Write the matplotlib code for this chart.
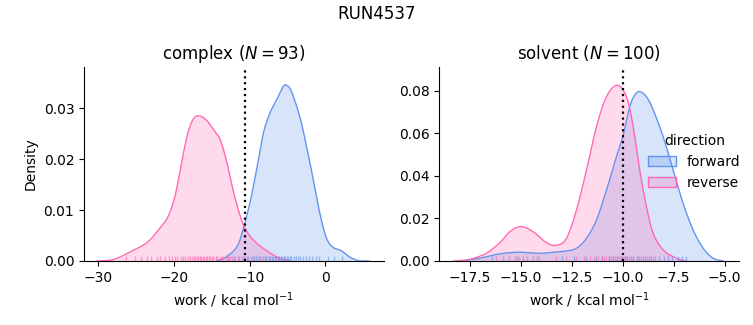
import matplotlib
matplotlib.use("Agg")
import matplotlib.pyplot as plt
from matplotlib.patches import Patch
from matplotlib.colors import to_rgba
import numpy as np

# --- DATA (density curves + rug positions) ---
# complex leg, reverse direction
cx_rev_x = [-30.2, -28.0, -25.8, -23.6, -21.9, -20.8, -19.9, -19.2, -18.3, -17.5,
            -16.7, -15.7, -14.6, -13.9, -13.1, -12.2, -11.3, -10.4, -9.1, -7.35, -6.0, -4.7]
cx_rev_d = [0.0, 0.0003, 0.0018, 0.0036, 0.0064, 0.0087, 0.0126, 0.0179, 0.0244, 0.0278,
            0.0285, 0.0276, 0.0254, 0.0238, 0.0198, 0.0139, 0.0090, 0.0058, 0.0035, 0.0016, 0.0005, 0.0]
# complex leg, forward direction
cx_fwd_x = [-14.4, -13.1, -11.7, -10.9, -10.0, -9.1, -8.2, -7.35, -6.46, -5.6, -5.15,
            -4.5, -3.4, -2.5, -1.6, -0.75, 0.13, 1.0, 2.1, 3.2, 4.5, 5.8]
cx_fwd_d = [0.0, 0.0008, 0.0028, 0.0061, 0.0113, 0.0179, 0.0251, 0.0290, 0.0316, 0.0342, 0.0345,
            0.0333, 0.0284, 0.0225, 0.0159, 0.0094, 0.0045, 0.0027, 0.0020, 0.0008, 0.0, 0.0]
# solvent leg, reverse direction
sv_rev_x = [-18.3, -17.5, -16.7, -16.03, -15.54, -15.0, -14.4, -13.74, -13.25, -12.76, -12.27,
            -11.78, -11.29, -10.8, -10.28, -9.82, -9.49, -9.17, -8.84, -8.51, -8.02, -7.37, -6.9]
sv_rev_d = [0.0, 0.0008, 0.0036, 0.0086, 0.0138, 0.0162, 0.0138, 0.0086, 0.0074, 0.0107, 0.0240,
            0.0428, 0.0632, 0.0773, 0.0827, 0.0773, 0.0632, 0.0428, 0.0256, 0.0130, 0.0052, 0.0013, 0.0]
# solvent leg, forward direction
sv_fwd_x = [-17.83, -17.0, -16.2, -15.54, -15.0, -14.07, -13.41, -12.76, -12.27, -11.78, -11.29,
            -10.8, -10.31, -10.0, -9.66, -9.41, -9.17, -8.84, -8.51, -8.02, -7.53, -7.04,
            -6.55, -6.06, -5.57, -5.08]
sv_fwd_d = [0.0, 0.0013, 0.0031, 0.0039, 0.0041, 0.0036, 0.0041, 0.0047, 0.0060, 0.0107, 0.0193,
            0.0334, 0.0491, 0.0585, 0.0726, 0.0781, 0.0797, 0.0773, 0.0711, 0.0585, 0.0428, 0.0271,
            0.0146, 0.0060, 0.0013, 0.0]

cx_rev_rug = [-26.3, -25.1, -24.4, -23.6, -23.0, -22.3, -21.8, -21.2, -20.7, -20.3, -19.9, -19.6,
              -19.1, -18.8, -18.5, -18.2, -17.9, -17.6, -17.4, -17.2, -17.0, -16.8, -16.6, -16.4,
              -16.2, -16.0, -15.8, -15.6, -15.4, -15.2, -15.0, -14.8, -14.5, -14.3, -14.0, -13.7,
              -13.5, -13.2, -12.9, -12.6, -12.3, -11.9, -11.5, -11.0, -10.4, -9.6, -8.7, -7.5, -6.3]
cx_fwd_rug = [-12.9, -12.1, -11.4, -10.8, -10.3, -9.9, -9.5, -9.2, -8.9, -8.6, -8.3, -8.0, -7.8,
              -7.5, -7.3, -7.1, -6.9, -6.7, -6.5, -6.3, -6.1, -5.9, -5.7, -5.5, -5.3, -5.1, -4.9,
              -4.7, -4.5, -4.2, -3.9, -3.6, -3.3, -3.0, -2.6, -2.2, -1.8, -1.3, -0.8, 0.3, 1.1, 2.2]
sv_rev_rug = [-16.2, -15.9, -15.6, -15.3, -15.1, -14.9, -14.7, -14.4, -14.1, -13.3, -12.8, -12.3,
              -11.9, -11.6, -11.4, -11.2, -11.0, -10.9, -10.8, -10.7, -10.6, -10.5, -10.4, -10.3,
              -10.2, -10.1, -10.0, -9.9, -9.8, -9.7, -9.5, -9.3, -9.1, -8.8, -8.5]
sv_fwd_rug = [-16.4, -15.2, -14.2, -13.0, -12.4, -11.8, -11.3, -11.0, -10.7, -10.5, -10.3, -10.1,
              -9.9, -9.8, -9.6, -9.5, -9.3, -9.2, -9.0, -8.9, -8.7, -8.6, -8.4, -8.2, -8.0, -7.8,
              -7.6, -7.3, -7.1, -6.9]

cx_dg = -10.65
sv_dg = -10.0

BLUE = "cornflowerblue"
PINK = "hotpink"


def smooth(x, y, n=12):
    # Catmull-Rom through the read-off points, only for drawing
    x = np.asarray(x, float)
    y = np.asarray(y, float)
    px = np.concatenate([[x[0]], x, [x[-1]]])
    py = np.concatenate([[y[0]], y, [y[-1]]])
    t = np.linspace(0, 1, n, endpoint=False)
    xs, ys = [], []
    for i in range(1, len(px) - 2):
        for arr, out in ((px, xs), (py, ys)):
            p0, p1, p2, p3 = arr[i - 1], arr[i], arr[i + 1], arr[i + 2]
            out.extend(0.5 * (2 * p1 + (-p0 + p2) * t + (2 * p0 - 5 * p1 + 4 * p2 - p3) * t ** 2
                              + (-p0 + 3 * p1 - 3 * p2 + p3) * t ** 3))
    xs.append(x[-1])
    ys.append(y[-1])
    return np.array(xs), np.clip(np.array(ys), 0, None)


def draw_panel(ax, curves, rugs, dg):
    for (x, d), color in curves:
        sx, sy = smooth(x, d)
        ax.fill_between(sx, 0, sy, color=color, alpha=0.25, lw=0)
        ax.plot(sx, sy, color=color, lw=1.0)
    for r, color in rugs:
        ax.vlines(r, 0, 0.025, color=color, alpha=0.6, lw=1.0,
                  transform=ax.get_xaxis_transform())
    ax.axvline(dg, color="black", ls=":", lw=1.6)
    ax.spines["top"].set_visible(False)
    ax.spines["right"].set_visible(False)
    ax.set_xlabel("work / kcal mol$^{-1}$", fontsize=10)


fig = plt.figure(figsize=(7.53, 3.25), dpi=100)
ax1 = fig.add_axes([0.1116, 0.197, 0.398, 0.597])
ax2 = fig.add_axes([0.5834, 0.197, 0.398, 0.597])

draw_panel(ax1, [((cx_fwd_x, cx_fwd_d), BLUE), ((cx_rev_x, cx_rev_d), PINK)],
           [(cx_fwd_rug, BLUE), (cx_rev_rug, PINK)], cx_dg)
ax1.set_xlim(-31.9, 7.7)
ax1.set_ylim(0, 0.0381)
ax1.set_yticks([0, 0.01, 0.02, 0.03])
ax1.set_xticks([-30, -20, -10, 0])
ax1.set_ylabel("Density", fontsize=10)
ax1.set_title("complex ($N = 93$)", fontsize=12)

draw_panel(ax2, [((sv_fwd_x, sv_fwd_d), BLUE), ((sv_rev_x, sv_rev_d), PINK)],
           [(sv_fwd_rug, BLUE), (sv_rev_rug, PINK)], sv_dg)
ax2.set_xlim(-19.0, -4.3)
ax2.set_ylim(0, 0.0913)
ax2.set_xticks([-17.5, -15.0, -12.5, -10.0, -7.5, -5.0])
ax2.set_yticks([0, 0.02, 0.04, 0.06, 0.08])
ax2.set_title("solvent ($N = 100$)", fontsize=12)

handles = [Patch(facecolor=to_rgba(BLUE, 0.25), edgecolor=BLUE, lw=1.0, label="forward"),
           Patch(facecolor=to_rgba(PINK, 0.25), edgecolor=PINK, lw=1.0, label="reverse")]
ax2.legend(handles=handles, title="direction", frameon=False, fontsize=10,
           title_fontsize=10, loc="center left", bbox_to_anchor=(0.655, 0.51))

fig.suptitle("RUN4537", fontsize=12, y=0.985)

fig.savefig("out.png", dpi=100)
